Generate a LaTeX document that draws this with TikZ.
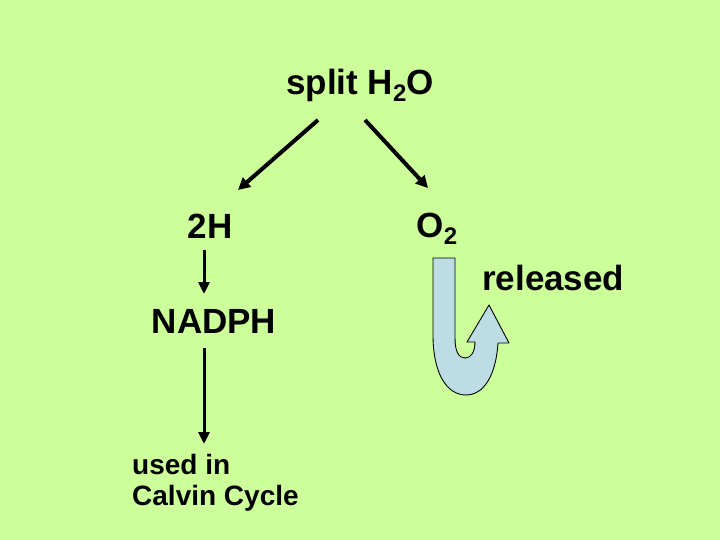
\documentclass[tikz,border=0pt]{standalone}
\usepackage{fontspec}
\setmainfont{Liberation Sans}
\usetikzlibrary{arrows.meta}
\definecolor{bgc}{HTML}{CCFF99}
\definecolor{ufill}{HTML}{BBDDE3}
\newcommand{\subtwo}{\raisebox{-7pt}{\fontsize{24}{24}\selectfont 2}}
\begin{document}
\begin{tikzpicture}[x=1pt,y=-1pt,
  lbl/.style={inner sep=0pt,anchor=base,font=\fontsize{35}{40}\selectfont\bfseries},
  thickarr/.style={line width=4pt,-{Triangle[length=12pt,width=12pt]}},
  thinarr/.style={line width=3pt,-{Triangle[length=12pt,width=11pt]}}]
\fill[bgc] (0,0) rectangle (720,540);
\useasboundingbox (0,0) rectangle (720,540);
\node[lbl] (split) at (360,95) {split H\subtwo O};
\node[lbl] (twoh) at (210,238) {2H};
\node[lbl] (otwo) at (437,237) {O\subtwo};
\node[lbl,anchor=base west] (rel) at (482,290) {released};
\node[lbl] (nadph) at (214,333) {NADPH};
\node[inner sep=0pt,anchor=north west,align=left,font=\fontsize{28}{31}\selectfont\bfseries] (used) at (132,454) {used in\\Calvin Cycle};
\coordinate (l1) at (318,120);
\coordinate (l2) at (238,190);
\coordinate (r1) at (365,120);
\coordinate (r2) at (428,188);
\coordinate (v1) at (204,250);
\coordinate (v2) at (204,294);
\coordinate (v3) at (204,348);
\coordinate (v4) at (204,444);
\draw[thickarr] (l1) -- (l2);
\draw[thickarr] (r1) -- (r2);
\draw[thinarr] (v1) -- (v2);
\draw[thinarr] (v3) -- (v4);
\draw[fill=ufill,line width=0.9pt,line join=round]
  (433,258) -- (455,258) -- (455,338)
  .. controls (455,352) and (459,358) .. (465,358)
  .. controls (471,358) and (475,352) .. (475,342)
  -- (467,342) -- (489,305) -- (509,343) -- (498,343)
  .. controls (496,375) and (484,395) .. (466,395)
  .. controls (446,395) and (433,372) .. (433,335) -- cycle;
\end{tikzpicture}
\end{document}
